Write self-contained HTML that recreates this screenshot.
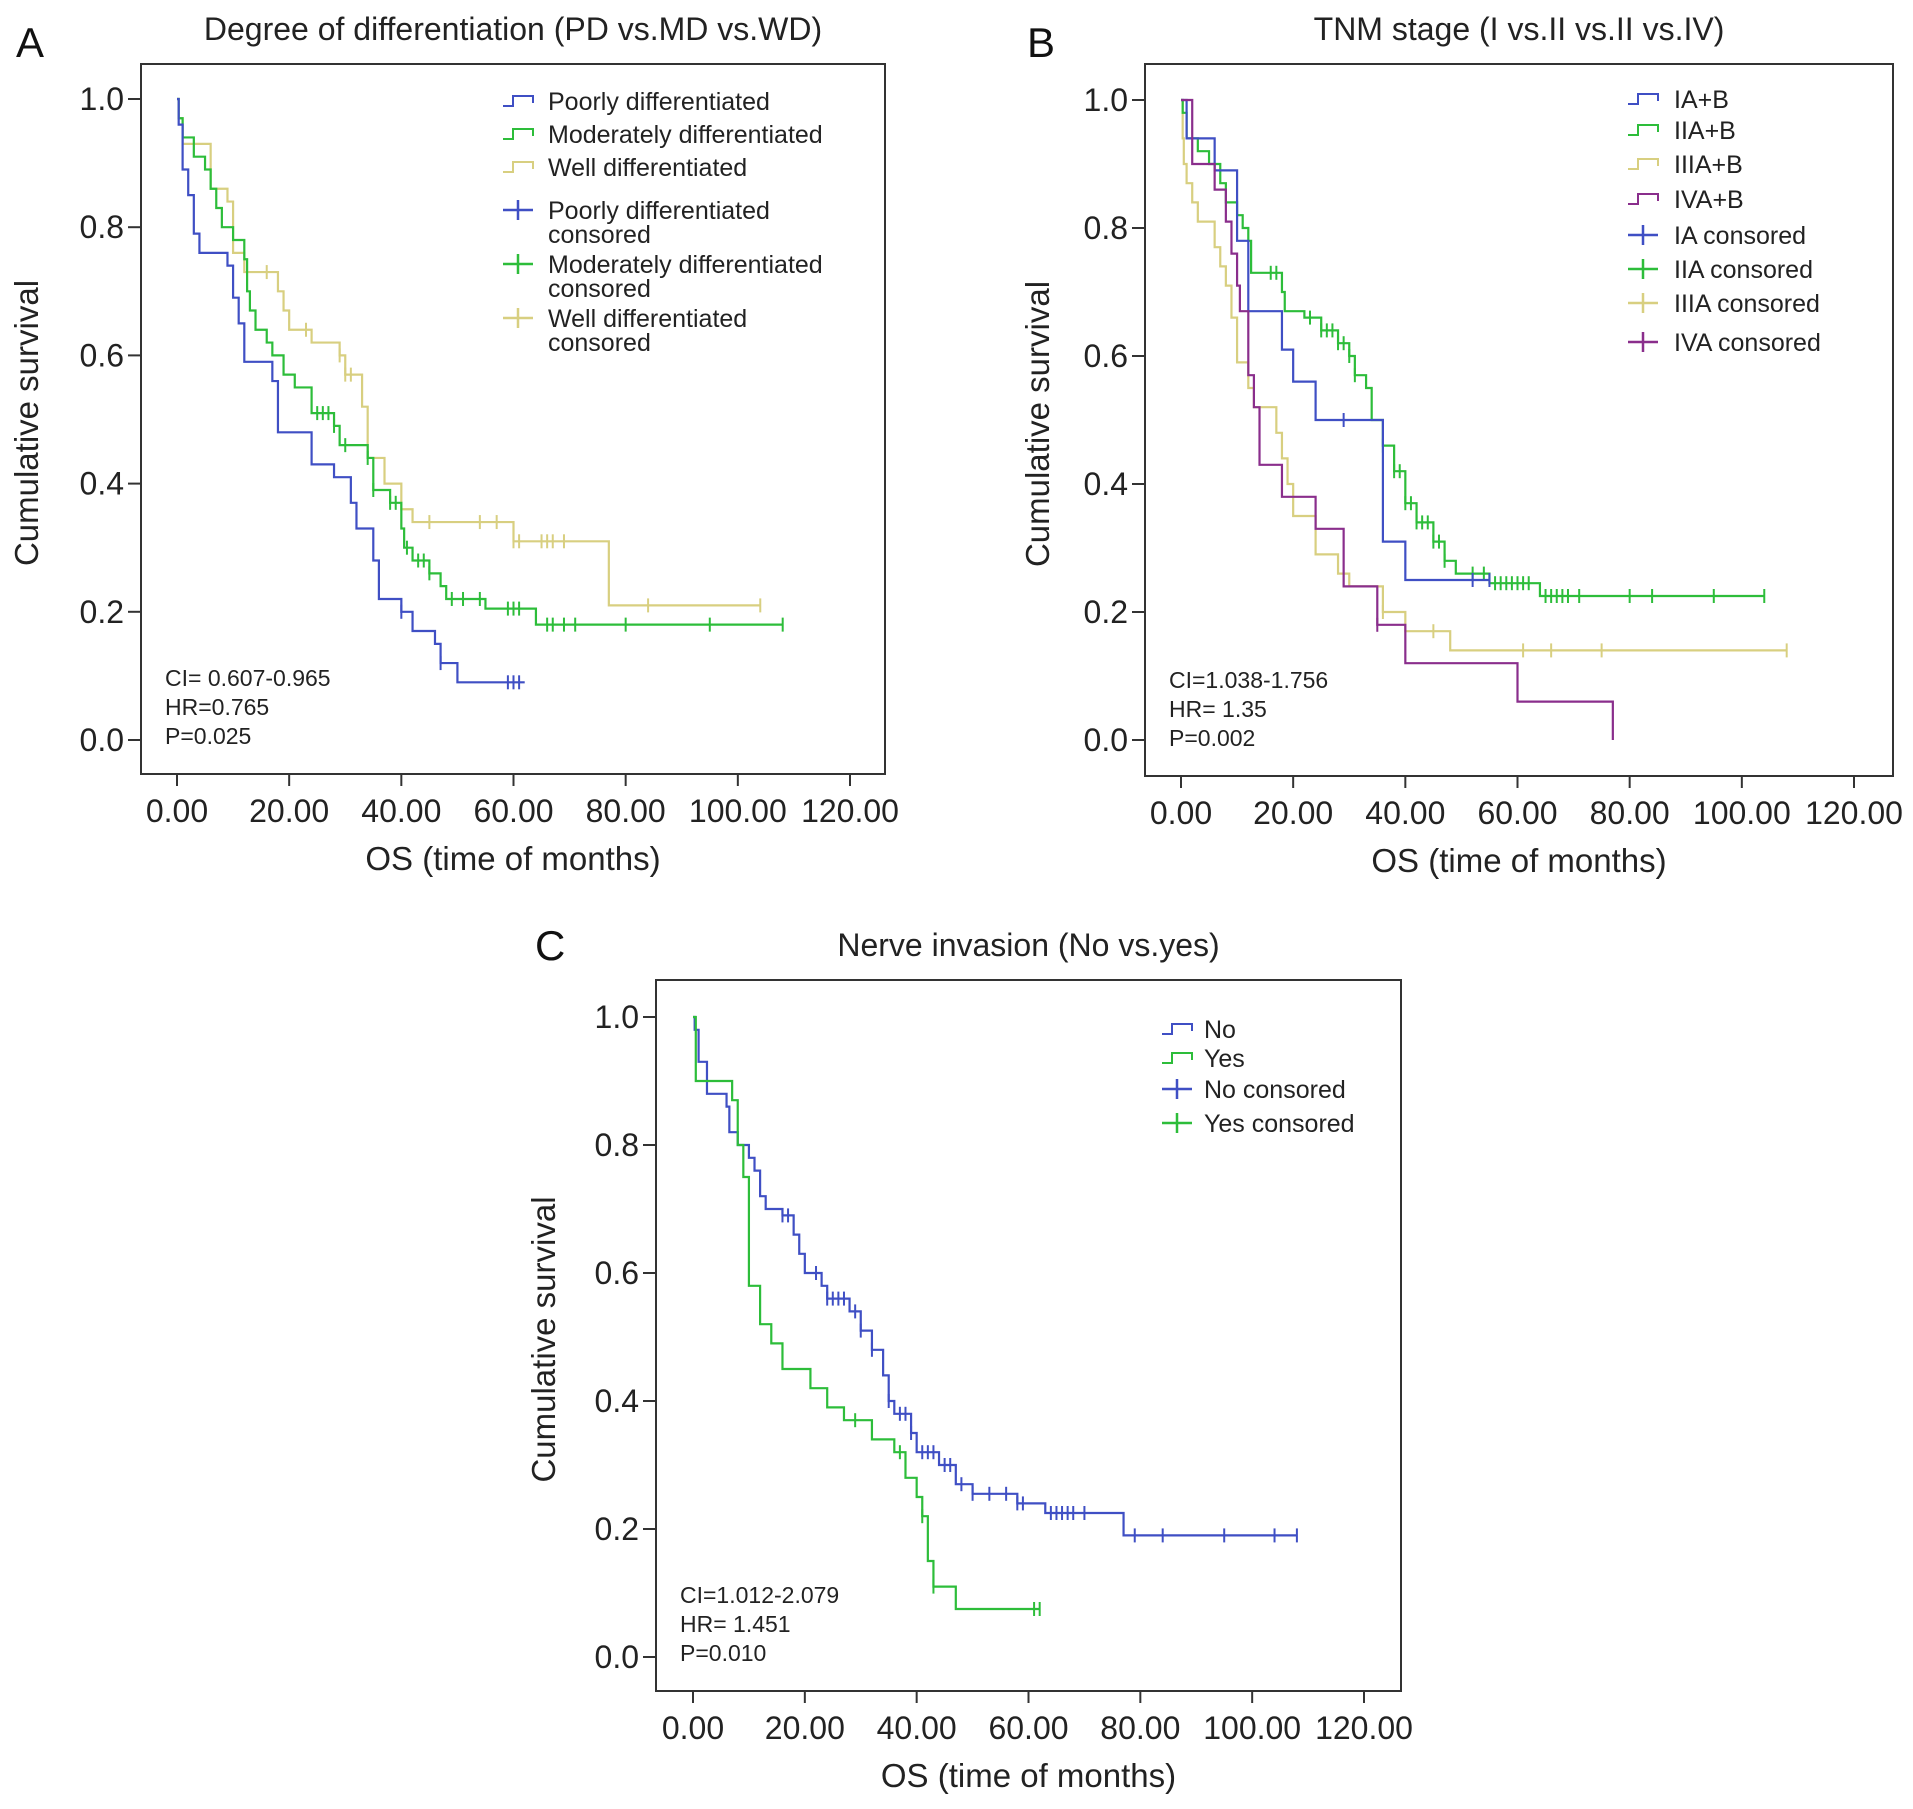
<!DOCTYPE html>
<html><head><meta charset="utf-8">
<style>
body{margin:0;background:#fff;}
svg{display:block;font-family:"Liberation Sans",sans-serif;}
</style></head>
<body>
<svg id="fig" width="1913" height="1809" viewBox="0 0 1913 1809"></svg>
<script>
// ---------- Data (months, survival) ----------
const xTicks=[0,20,40,60,80,100,120];
const xTickLabels=["0.00","20.00","40.00","60.00","80.00","100.00","120.00"];
const yTicks=[0,0.2,0.4,0.6,0.8,1.0];
const yTickLabels=["0.0","0.2","0.4","0.6","0.8","1.0"];

// Panel A
const aPoorT=[0,0.3,1,2,3,4,9,10,11,12,17,18,24,28,31,32,35,36,40,42,46,47,50,62];
const aPoorS=[1,0.96,0.89,0.85,0.79,0.76,0.74,0.69,0.65,0.59,0.56,0.48,0.43,0.41,0.37,0.33,0.28,0.22,0.20,0.17,0.15,0.12,0.09,0.09];
const aPoorCT=[40,47,59,60,61];
const aModT=[0,0.3,1,3,5,6,7,8,10,12,12.5,13,14,16,17,19,21,24,28,29,34,35,38,40,40.5,42,45,47,48,55,64,108];
const aModS=[1,0.97,0.94,0.91,0.89,0.86,0.83,0.80,0.78,0.75,0.70,0.67,0.64,0.62,0.60,0.57,0.55,0.51,0.49,0.46,0.44,0.39,0.37,0.33,0.30,0.28,0.26,0.24,0.22,0.205,0.18,0.18];
const aModCT=[25,26,27,28,30,34,35,38,39,41,43,44,45,49,51,54,59,60,61,66,67,69,71,80,95,108];
const aWellT=[0,0.3,1,6,9,10,12,18,19,20,24,29,30,33,34,37,40,42,60,77,104];
const aWellS=[1,0.97,0.93,0.86,0.84,0.76,0.73,0.70,0.67,0.64,0.62,0.60,0.57,0.52,0.44,0.40,0.36,0.34,0.31,0.21,0.21];
const aWellCT=[16,23,29,30,31,45,54,57,60,61,65,66,67,69,84,104];

// Panel B
const bIT=[0,1,6,10,12,18,20,24,36,40,55];
const bIS=[1,0.94,0.89,0.78,0.67,0.61,0.56,0.50,0.31,0.25,0.25];
const bICT=[29,52,55];
const bIIT=[0,0.3,1,3,5,7,8,10,11,12,12.5,18,18.5,22,25,28,30,31,33,34,36,38,40,42,45,47,49,55,64,104];
const bIIS=[1,0.98,0.94,0.92,0.90,0.87,0.84,0.82,0.80,0.78,0.73,0.70,0.67,0.66,0.64,0.62,0.60,0.57,0.55,0.50,0.46,0.42,0.37,0.34,0.31,0.28,0.26,0.245,0.225,0.225];
const bIICT=[16,17,23,25,26,27,28,29,30,31,36,38,39,40,41,42,43,44,45,46,47,52,54,56,57,58,59,60,61,62,65,66,67,68,69,71,80,84,95,104];
const bIIIT=[0,0.3,0.5,1,2,3,6,7,8,9,10,12,13,17,18,19,20,24,28,30,36,40,48,108];
const bIIIS=[1,0.94,0.90,0.87,0.84,0.81,0.77,0.74,0.71,0.66,0.59,0.55,0.52,0.48,0.44,0.40,0.35,0.29,0.26,0.24,0.20,0.17,0.14,0.14];
const bIIICT=[36,45,61,66,75,108];
const bIVT=[0,2,6,8,9,10,10.5,12,13,14,18,24,29,35,40,60,77];
const bIVS=[1,0.90,0.86,0.81,0.76,0.71,0.67,0.57,0.52,0.43,0.38,0.33,0.24,0.18,0.12,0.06,0.0];
const bIVCT=[35];

// Panel C
const cNoT=[0,0.3,1,2.5,6,6.5,8,10,11,12,13,16,18,19,20,23,24,28,30,32,34,35,36,39,40,44,47,50,58,63,77,108];
const cNoS=[1,0.98,0.93,0.88,0.86,0.82,0.80,0.78,0.76,0.72,0.70,0.69,0.66,0.63,0.60,0.58,0.56,0.54,0.51,0.48,0.44,0.40,0.38,0.35,0.32,0.30,0.27,0.255,0.24,0.225,0.19,0.19];
const cNoCT=[16,17,22,24,25,26,27,29,30,32,35,37,38,39,41,42,43,45,46,48,50,53,56,58,59,64,65,66,67,68,70,79,84,95,104,108];
const cYesT=[0,0.5,7,8,9,10,12,14,16,21,24,27,32,36,38,40,41,42,43,47,62];
const cYesS=[1,0.90,0.87,0.80,0.75,0.58,0.52,0.49,0.45,0.42,0.39,0.37,0.34,0.32,0.28,0.25,0.22,0.15,0.11,0.075,0.075];
const cYesCT=[29,37,41,43,61,62];

const BLUE="#3f4fc4",GREEN="#2dbd3a",YEL="#d8cf80",PURP="#8a2e8c";
const NS="http://www.w3.org/2000/svg";
const svg=document.getElementById('fig');
function mk(tag,attrs,parent,text){const e=document.createElementNS(NS,tag);for(const k in attrs)e.setAttribute(k,attrs[k]);if(text!==undefined)e.textContent=text;(parent||svg).appendChild(e);return e;}

function survAt(T,S,t){let s=S[0];for(let i=0;i<T.length;i++){if(T[i]<=t)s=S[i];}return s;}

function panel(p){
  const g=mk('g',{});
  
  
  const X=v=>p.x0+(v/120)*(p.x120-p.x0);
  const Y=v=>p.y0-v*(p.y0-p.y1);
  const fr=mk('rect',{x:p.bx,y:p.by,width:p.bw,height:p.bh,fill:'none',stroke:'#333','stroke-width':2},g);
  
  yTicks.forEach((v,i)=>{
    mk('line',{x1:p.bx-13,x2:p.bx,y1:Y(v),y2:Y(v),stroke:'#333','stroke-width':2},g);
    const t=mk('text',{x:p.bx-17,y:Y(v)+11,'text-anchor':'end','font-size':32,fill:'#222'},g,yTickLabels[i]);
    
  });
  xTicks.forEach((v,i)=>{
    mk('line',{x1:X(v),x2:X(v),y1:p.by+p.bh,y2:p.by+p.bh+12,stroke:'#333','stroke-width':2},g);
    const t=mk('text',{x:X(v),y:p.by+p.bh+48,'text-anchor':'middle','font-size':32,fill:'#222'},g,xTickLabels[i]);
    
  });
  let t=mk('text',{x:p.bx+p.bw/2,y:p.by+p.bh+96,'text-anchor':'middle','font-size':33,fill:'#222'},g,'OS (time of months)');
  
  const cy=p.by+p.bh/2+4;
  t=mk('text',{x:p.ytx,y:cy,'text-anchor':'middle','font-size':33,fill:'#222',transform:`rotate(-90 ${p.ytx} ${cy})`},g,'Cumulative survival');
  
  t=mk('text',{x:p.bx+p.bw/2,y:p.by-24,'text-anchor':'middle','font-size':32,fill:'#222'},g,p.title);
  
  t=mk('text',{x:p.lx,y:p.ly,'font-size':42,fill:'#111'},g,p.letter);
  
  p.stats.forEach((s,i)=>{
    const e=mk('text',{x:p.bx+24,y:p.by+p.bh-88+i*29,'font-size':23,fill:'#222'},g,s);
    
  });
  p.series.forEach(s=>{
    let d=`M${X(s.T[0])},${Y(s.S[0])}`;
    for(let i=1;i<s.T.length;i++){d+=` H${X(s.T[i])} V${Y(s.S[i])}`;}
    const path=mk('path',{d:d,fill:'none',stroke:s.c,'stroke-width':2.2},g);
    
    
    s.CT.forEach(ct=>{
      const yy=Y(survAt(s.T,s.S,ct)),xx=X(ct);
      const m=mk('path',{d:`M${xx},${yy-7} V${yy+7}`,stroke:s.c,'stroke-width':2},g);
      
      
    });
  });
  p.legend.forEach(L=>{
    const sx=p.lgx, sy=L.y;
    if(L.type==='line'){
      mk('path',{d:`M${sx},${sy+5} H${sx+10} V${sy-5} H${sx+30} V${sy+2}`,fill:'none',stroke:L.c,'stroke-width':2},g);
    }else{
      mk('path',{d:`M${sx},${sy} H${sx+30} M${sx+15},${sy-10} V${sy+10}`,fill:'none',stroke:L.c,'stroke-width':2.5},g);
    }
    L.lines.forEach((ln,j)=>{
      const e=mk('text',{x:p.lgx+p.txo,y:sy+9+j*24,'font-size':25,fill:'#222'},g,ln);
      
      
    });
  });
}

panel({id:'a',letter:'A',lx:16,ly:57,title:'Degree of differentiation (PD vs.MD vs.WD)',
  bx:141,by:64,bw:744,bh:710,x0:177,x120:850,y0:740,y1:99,ytx:38,
  stats:['CI= 0.607-0.965','HR=0.765','P=0.025'],
  series:[{name:'well',T:aWellT,S:aWellS,CT:aWellCT,c:YEL},{name:'moderately',T:aModT,S:aModS,CT:aModCT,c:GREEN},{name:'poorly',T:aPoorT,S:aPoorS,CT:aPoorCT,c:BLUE}],
  lgx:503,txo:45,
  legend:[{type:'line',c:BLUE,y:101,lines:['Poorly differentiated']},{type:'line',c:GREEN,y:134,lines:['Moderately differentiated']},{type:'line',c:YEL,y:167,lines:['Well differentiated']},
    {type:'cross',c:BLUE,y:210,lines:['Poorly differentiated','consored']},{type:'cross',c:GREEN,y:264,lines:['Moderately differentiated','consored']},{type:'cross',c:YEL,y:318,lines:['Well differentiated','consored']}]
});
panel({id:'b',letter:'B',lx:1027,ly:57,title:'TNM stage (I vs.II vs.II vs.IV)',
  bx:1145,by:64,bw:748,bh:712,x0:1181,x120:1854,y0:740,y1:100,ytx:1049,
  stats:['CI=1.038-1.756','HR= 1.35','P=0.002'],
  series:[{name:'stage-iii',T:bIIIT,S:bIIIS,CT:bIIICT,c:YEL},{name:'stage-ii',T:bIIT,S:bIIS,CT:bIICT,c:GREEN},{name:'stage-i',T:bIT,S:bIS,CT:bICT,c:BLUE},{name:'stage-iv',T:bIVT,S:bIVS,CT:bIVCT,c:PURP}],
  lgx:1628,txo:46,
  legend:[{type:'line',c:BLUE,y:99,lines:['IA+B']},{type:'line',c:GREEN,y:130,lines:['IIA+B']},{type:'line',c:YEL,y:164,lines:['IIIA+B']},{type:'line',c:PURP,y:199,lines:['IVA+B']},
    {type:'cross',c:BLUE,y:235,lines:['IA consored']},{type:'cross',c:GREEN,y:269,lines:['IIA consored']},{type:'cross',c:YEL,y:303,lines:['IIIA consored']},{type:'cross',c:PURP,y:342,lines:['IVA consored']}]
});
panel({id:'c',letter:'C',lx:535,ly:960,title:'Nerve invasion (No vs.yes)',
  bx:656,by:980,bw:745,bh:711,x0:693,x120:1364,y0:1657,y1:1017,ytx:555,
  stats:['CI=1.012-2.079','HR= 1.451','P=0.010'],
  series:[{name:'no',T:cNoT,S:cNoS,CT:cNoCT,c:BLUE},{name:'yes',T:cYesT,S:cYesS,CT:cYesCT,c:GREEN}],
  lgx:1162,txo:42,
  legend:[{type:'line',c:BLUE,y:1029,lines:['No']},{type:'line',c:GREEN,y:1058,lines:['Yes']},{type:'cross',c:BLUE,y:1089,lines:['No consored']},{type:'cross',c:GREEN,y:1123,lines:['Yes consored']}]
});
</script>
</body></html>
